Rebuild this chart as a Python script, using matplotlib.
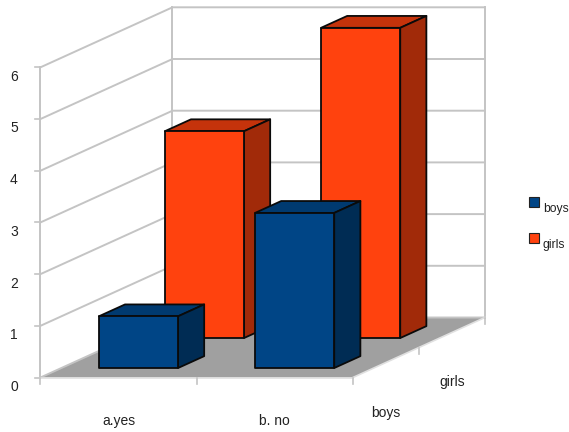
import matplotlib
matplotlib.use('Agg')
import matplotlib.pyplot as plt

categories = ['a.yes', 'b. no']
series = ['boys', 'girls']
boys = [1, 3]
girls = [4, 6]
y_ticks = [0, 1, 2, 3, 4, 5, 6]

plt.rcParams['font.family'] = ['Liberation Sans', 'DejaVu Sans']

# oblique projection of the box: pixel position of the front-left origin and scales
X0, Y0 = 40.5, 377.5
CAT_W = 156.2
UNIT = 51.7
DEPTH_X, DEPTH_Y = 132, -60


def proj(x, d, v):
    return (X0 + x * CAT_W + d * DEPTH_X, Y0 - v * UNIT + d * DEPTH_Y)


def draw_bar(ax, cat, row, value, front, top, side):
    x1, x2 = cat + 0.240, cat + 0.747
    d1, d2 = row * 0.5 + 0.158, row * 0.5 + 0.356
    faces = [
        ([(x1, d1, value), (x2, d1, value), (x2, d2, value), (x1, d2, value)], top),
        ([(x2, d1, 0), (x2, d2, 0), (x2, d2, value), (x2, d1, value)], side),
        ([(x1, d1, 0), (x2, d1, 0), (x2, d1, value), (x1, d1, value)], front),
    ]
    for pts, col in faces:
        ax.fill(*zip(*[proj(*p) for p in pts]), facecolor=col, edgecolor='#0a0a0a',
                linewidth=1.3, joinstyle='round', zorder=4 - row)


fig = plt.figure(figsize=(5.69, 4.32), dpi=100)
ax = fig.add_axes([0, 0, 1, 1])
ax.set_xlim(0, 569)
ax.set_ylim(432, 0)
ax.axis('off')

grid = '#c4c4c4'
# floor
floor = [proj(0, 0, 0), proj(2, 0, 0), proj(2, 1, 0), proj(0, 1, 0)]
ax.fill(*zip(*floor), facecolor='#a0a0a0', edgecolor='none', zorder=1)

# walls and gridlines
for v in y_ticks:
    a, b, c = proj(0, 0, v), proj(0, 1, v), proj(2, 1, v)
    ax.plot([a[0], b[0], c[0]], [a[1], b[1], c[1]], color=grid, lw=1.4, zorder=2)
    ax.plot([a[0] - 5, a[0]], [a[1], a[1]], color=grid, lw=1.2, zorder=2)
    ax.text(14, a[1] + 9.5, str(v), fontsize=10, color='#222222', ha='center', va='center')
for d, x in [(0, 0), (1, 0), (1, 2)]:
    a, b = proj(x, d, 0), proj(x, d, 6)
    ax.plot([a[0], b[0]], [a[1], b[1]], color=grid, lw=1.4, zorder=2)
a, b = proj(0, 0, 0), proj(2, 0, 0)
ax.plot([a[0], b[0]], [a[1], b[1]], color='#e0e0e0', lw=1.2, zorder=2)
a, b = proj(2, 0, 0), proj(2, 1, 0)
ax.plot([a[0], b[0]], [a[1], b[1]], color='#e0e0e0', lw=1.2, zorder=2)
for x in range(3):
    p = proj(x, 0, 0)
    ax.plot([p[0], p[0]], [p[1], p[1] + 6], color=grid, lw=1.2, zorder=2)
for d in (0.5, 1):
    p = proj(2, d, 0)
    ax.plot([p[0], p[0]], [p[1], p[1] + 6], color=grid, lw=1.2, zorder=2)

# bars, back row first
for i in range(len(categories)):
    draw_bar(ax, i, 1, girls[i], '#ff420e', '#c5330b', '#a12a09')
for i in range(len(categories)):
    draw_bar(ax, i, 0, boys[i], '#004586', '#003a70', '#002c54')

# axis labels
for i, c in enumerate(categories):
    ax.text(X0 + (i + 0.5) * CAT_W, 421, c, fontsize=10, color='#222222', ha='center', va='center')
ax.text(386, 413, series[0], fontsize=10, color='#222222', ha='center', va='center')
ax.text(452, 382, series[1], fontsize=10, color='#222222', ha='center', va='center')

# legend
for name, col, y in zip(series, ['#004586', '#ff420e'], [202, 238]):
    ax.fill([529, 539, 539, 529], [y - 5, y - 5, y + 5, y + 5], facecolor=col,
            edgecolor='#222222', linewidth=0.8, zorder=3)
    ax.text(543, y + 7, name, fontsize=8.7, color='#222222', ha='left', va='center')

fig.savefig('out.png', dpi=100)
